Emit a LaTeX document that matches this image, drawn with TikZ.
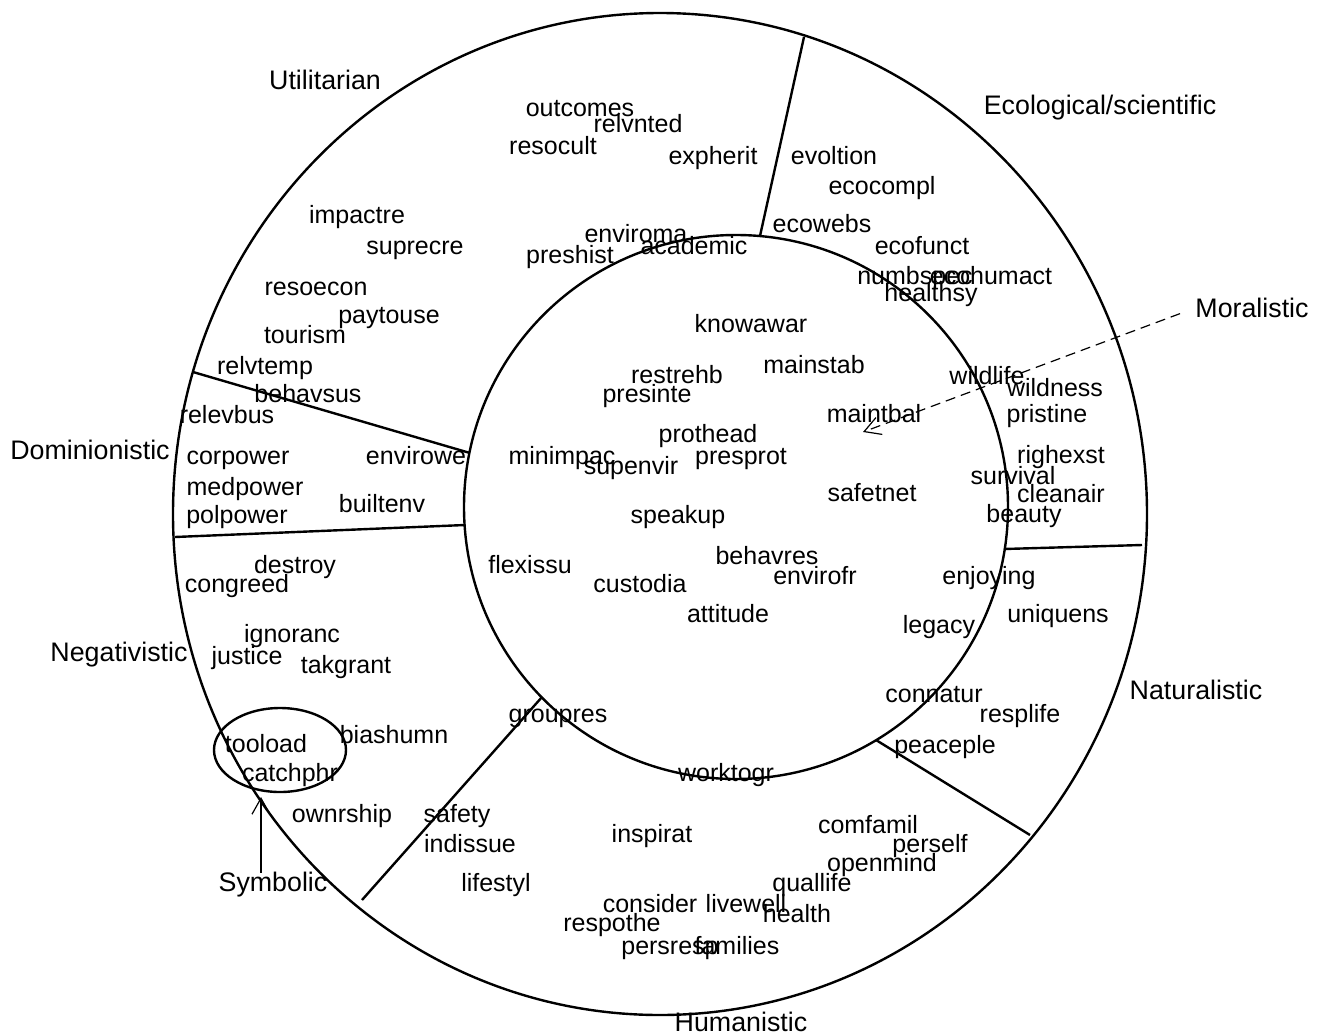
\documentclass[tikz,border=0pt]{standalone}
\usepackage{fontspec}
\setmainfont{Liberation Sans}
\usetikzlibrary{arrows.meta}

\begin{document}
\begin{tikzpicture}[
  x=0.5pt, y=-0.5pt,
  ring/.style={line width=1.2pt},
  divider/.style={line width=1.2pt},
  word/.style={inner sep=0pt, text height=9pt, text depth=0pt, font=\fontsize{12.5}{15}\selectfont},
  sector/.style={word, font=\fontsize{13.4}{16}\selectfont},
  pointer/.style={-{Straight Barb[length=8pt, width=9pt]}, line width=0.6pt},
]
\useasboundingbox (0,0) rectangle (1318,1034);

% ===== Rings and sector dividers =====
\draw[ring] (660,514) ellipse [x radius=487, y radius=501];
\draw[ring] (736,507) circle [radius=272];

\draw[divider] (760,236) -- (804,37);
\draw[divider] (470,453) -- (193,372);
\draw[divider] (465,525) -- (175,537);
\draw[divider] (542,697) -- (362,900);
\draw[divider] (876,740) -- (1030,835);
\draw[divider] (1004,549) -- (1142,545);

% ===== Outer labels =====
\node[sector] (utilitarian) at (325,80) {Utilitarian};
\node[sector] (ecological) at (1100,105) {Ecological/scientific};
\node[sector] (moralistic) at (1252,308) {Moralistic};
\node[sector] (dominionistic) at (90,450) {Dominionistic};
\node[sector] (negativistic) at (119,652) {Negativistic};
\node[sector] (naturalistic) at (1196,690) {Naturalistic};
\node[sector] (symbolic) at (273,882) {Symbolic};
\node[sector] (humanistic) at (741,1022) {Humanistic};

% ===== Utilitarian =====
\node[word] (outcomes) at (580,107) {outcomes};
\node[word] (relvnted) at (638,123) {relvnted};
\node[word] (resocult) at (553,145) {resocult};
\node[word] (expherit) at (713,155) {expherit};
\node[word] (impactre) at (357,214) {impactre};
\node[word] (suprecre) at (415,245) {suprecre};
\node[word] (enviroma) at (636,233) {enviroma};
\node[word] (academic) at (694,245) {academic};
\node[word] (preshist) at (570,254) {preshist};
\node[word] (resoecon) at (316,286) {resoecon};
\node[word] (paytouse) at (389,314) {paytouse};
\node[word] (tourism) at (305,334) {tourism};
\node[word] (relvtemp) at (265,365) {relvtemp};
\node[word] (behavsus) at (308,393) {behavsus};

% ===== Ecological/scientific =====
\node[word] (evoltion) at (834,155) {evoltion};
\node[word] (ecocompl) at (882,185) {ecocompl};
\node[word] (ecowebs) at (822,223) {ecowebs};
\node[word] (ecofunct) at (922,245) {ecofunct};
\node[word] (numbspec) at (915,275) {numbspec};
\node[word] (ecohumact) at (991,275) {ecohumact};
\node[word] (healthsy) at (931,292) {healthsy};

% ===== Moralistic (inner circle) =====
\node[word] (knowawar) at (751,323) {knowawar};
\node[word] (mainstab) at (814,364) {mainstab};
\node[word] (restrehb) at (677,374) {restrehb};
\node[word] (presinte) at (647,393) {presinte};
\node[word] (maintbal) at (874,413) {maintbal};
\node[word] (prothead) at (708,433) {prothead};
\node[word] (minimpac) at (562,455) {minimpac};
\node[word] (supenvir) at (631,465) {supenvir};
\node[word] (presprot) at (741,455) {presprot};
\node[word] (safetnet) at (872,492) {safetnet};
\node[word] (speakup) at (678,514) {speakup};
\node[word] (flexissu) at (530,564) {flexissu};
\node[word] (custodia) at (640,583) {custodia};
\node[word] (behavres) at (767,555) {behavres};
\node[word] (envirofr) at (815,575) {envirofr};
\node[word] (attitude) at (728,613) {attitude};

% ===== Dominionistic =====
\node[word] (relevbus) at (227,414) {relevbus};
\node[word] (corpower) at (238,455) {corpower};
\node[word] (envirowe) at (416,455) {envirowe};
\node[word] (medpower) at (245,486) {medpower};
\node[word] (builtenv) at (382,503) {builtenv};
\node[word] (polpower) at (237,514) {polpower};

% ===== Negativistic and Symbolic =====
\node[word] (destroy) at (295,564) {destroy};
\node[word] (congreed) at (237,583) {congreed};
\node[word] (ignoranc) at (292,633) {ignoranc};
\node[word] (justice) at (247,655) {justice};
\node[word] (takgrant) at (346,664) {takgrant};
\node[word] (biashumn) at (394,734) {biashumn};
\node[word] (tooload) at (266,743) {tooload};
\node[word] (catchphr) at (290,772) {catchphr};
\node[word] (ownrship) at (342,813) {ownrship};
\draw[line width=1.2pt] (280,750) ellipse [x radius=66, y radius=42];
\coordinate (symbtip) at (261,797);
\draw[pointer] (symbolic.north -| symbtip) -- (symbtip);

% ===== Naturalistic =====
\node[word] (wildlife) at (987,375) {wildlife};
\node[word] (wildness) at (1055,387) {wildness};
\node[word] (pristine) at (1047,413) {pristine};
\node[word] (righexst) at (1061,454) {righexst};
\node[word] (survival) at (1013,475) {survival};
\node[word] (cleanair) at (1061,493) {cleanair};
\node[word] (beauty) at (1024,513) {beauty};
\node[word] (enjoying) at (989,575) {enjoying};
\node[word] (uniquens) at (1058,613) {uniquens};
\node[word] (legacy) at (939,624) {legacy};
\node[word] (connatur) at (934,693) {connatur};
\node[word] (resplife) at (1020,713) {resplife};
\node[word] (peaceple) at (945,744) {peaceple};

% Moralistic pointer
\coordinate (moraltip) at (863,432);
\draw[pointer, dash pattern=on 5pt off 3pt, shorten <=8pt] (moralistic.west) -- (moraltip);

% ===== Humanistic =====
\node[word] (groupres) at (558,713) {groupres};
\node[word] (worktogr) at (726,772) {worktogr};
\node[word] (safety) at (457,813) {safety};
\node[word] (indissue) at (470,843) {indissue};
\node[word] (inspirat) at (652,833) {inspirat};
\node[word] (lifestyl) at (496,882) {lifestyl};
\node[word] (comfamil) at (868,824) {comfamil};
\node[word] (perself) at (930,843) {perself};
\node[word] (openmind) at (882,862) {openmind};
\node[word] (quallife) at (812,882) {quallife};
\node[word] (consider) at (650,903) {consider};
\node[word] (livewell) at (746,903) {livewell};
\node[word] (health) at (797,913) {health};
\node[word] (respothe) at (612,922) {respothe};
\node[word] (persresp) at (670,945) {persresp};
\node[word] (families) at (737,945) {families};

\end{tikzpicture}
\end{document}
